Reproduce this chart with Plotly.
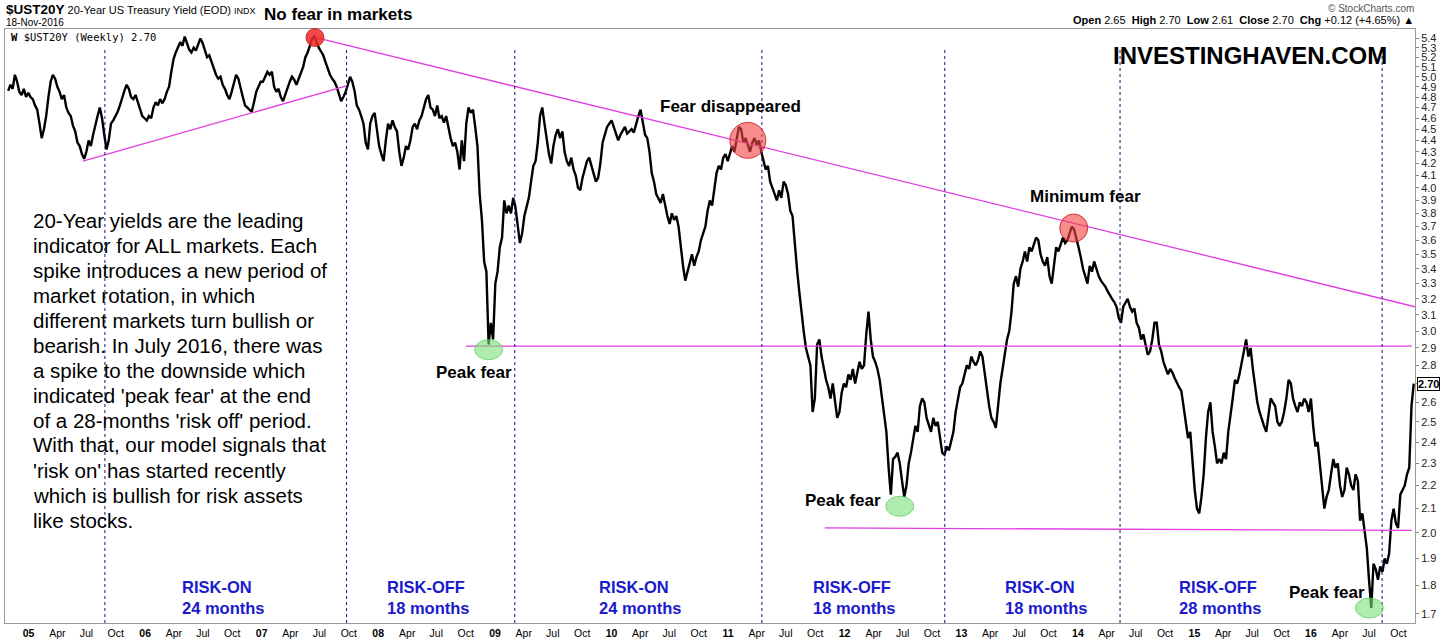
import math

import pandas as pd
import plotly.graph_objects as go

# weekly closes of $UST20Y (Friday of each week)
y2004 = [4.86, 4.92, 4.88, 5.02, 4.95, 4.85, 4.82, 4.88, 4.80, 4.84]
y2005 = [4.80, 4.78, 4.72, 4.68, 4.55, 4.42, 4.50, 4.62, 4.80, 4.95,
         5.02, 4.98, 4.90, 4.85, 4.78, 4.82, 4.70, 4.65, 4.62, 4.53,
         4.48, 4.38, 4.35, 4.28, 4.24, 4.30, 4.40, 4.35, 4.45, 4.55,
         4.62, 4.70, 4.60, 4.45, 4.32, 4.40, 4.55, 4.58, 4.62, 4.66,
         4.72, 4.80, 4.86, 4.92, 4.88, 4.80, 4.78, 4.82, 4.75, 4.70,
         4.62, 4.60]
y2006 = [4.58, 4.62, 4.60, 4.70, 4.75, 4.72, 4.78, 4.74, 4.78, 4.85,
         4.90, 5.05, 5.18, 5.25, 5.30, 5.36, 5.32, 5.42, 5.35, 5.28,
         5.25, 5.30, 5.27, 5.33, 5.40, 5.35, 5.26, 5.20, 5.22, 5.15,
         5.10, 5.02, 4.98, 5.00, 4.92, 4.88, 4.82, 4.78, 4.85, 4.95,
         5.02, 4.98, 4.88, 4.80, 4.72, 4.70, 4.68, 4.66, 4.75, 4.85,
         4.90, 4.95]
y2007 = [4.95, 5.00, 5.05, 5.02, 5.05, 4.90, 4.85, 4.88, 4.80, 4.76,
         4.82, 4.90, 4.95, 5.00, 4.97, 4.92, 4.98, 5.02, 5.10, 5.20,
         5.25, 5.32, 5.40, 5.42, 5.35, 5.30, 5.26, 5.22, 5.15, 5.08,
         5.02, 4.98, 4.95, 4.90, 4.82, 4.76, 4.80, 4.85, 4.92, 5.00,
         4.95, 4.86, 4.72, 4.68, 4.62, 4.55, 4.38, 4.32, 4.55, 4.62,
         4.65, 4.50]
y2008 = [4.35, 4.28, 4.22, 4.40, 4.55, 4.50, 4.58, 4.52, 4.48, 4.30,
         4.18, 4.25, 4.35, 4.32, 4.40, 4.52, 4.55, 4.50, 4.58, 4.62,
         4.70, 4.78, 4.82, 4.70, 4.68, 4.62, 4.72, 4.60, 4.62, 4.56,
         4.62, 4.50, 4.42, 4.35, 4.38, 4.30, 4.15, 4.40, 4.22, 4.55,
         4.70, 4.65, 4.68, 4.52, 4.35, 3.95, 3.75, 3.45, 3.38, 2.92,
         3.05, 2.95]
y2009 = [3.30, 3.38, 3.55, 3.62, 3.90, 3.80, 3.86, 3.80, 3.92, 3.85,
         3.70, 3.58, 3.65, 3.78, 3.85, 3.92, 4.05, 4.18, 4.22, 4.38,
         4.62, 4.70, 4.55, 4.40, 4.28, 4.20, 4.35, 4.45, 4.50, 4.42,
         4.48, 4.30, 4.22, 4.18, 4.25, 4.15, 4.10, 4.00, 3.98, 4.08,
         4.15, 4.22, 4.25, 4.18, 4.12, 4.05, 4.08, 4.20, 4.38, 4.45,
         4.52, 4.55]
y2010 = [4.58, 4.52, 4.45, 4.40, 4.45, 4.48, 4.52, 4.46, 4.48, 4.50,
         4.47, 4.55, 4.62, 4.68, 4.58, 4.45, 4.42, 4.30, 4.12, 4.05,
         3.95, 3.92, 3.88, 3.95, 3.85, 3.78, 3.72, 3.80, 3.75, 3.78,
         3.70, 3.55, 3.42, 3.32, 3.38, 3.45, 3.50, 3.42, 3.48, 3.52,
         3.60, 3.65, 3.70, 3.82, 3.90, 3.86, 4.00, 4.12, 4.18, 4.15,
         4.25, 4.28, 4.22]
y2011 = [4.28, 4.35, 4.30, 4.42, 4.52, 4.50, 4.38, 4.42, 4.35, 4.30,
         4.38, 4.42, 4.36, 4.40, 4.30, 4.22, 4.15, 4.18, 4.05, 4.00,
         3.95, 3.90, 3.98, 3.92, 4.05, 4.02, 3.95, 3.82, 3.78, 3.55,
         3.40, 3.25, 3.10, 3.00, 2.90, 2.85, 2.80, 2.55, 2.62, 2.92,
         2.95, 2.85, 2.78, 2.72, 2.68, 2.62, 2.70, 2.60, 2.52, 2.55,
         2.65, 2.70]
y2012 = [2.68, 2.75, 2.72, 2.78, 2.70, 2.76, 2.82, 2.78, 2.80, 2.98,
         3.12, 2.95, 2.85, 2.82, 2.78, 2.72, 2.62, 2.55, 2.45, 2.28,
         2.16, 2.32, 2.33, 2.35, 2.30, 2.22, 2.15, 2.20, 2.30, 2.35,
         2.42, 2.48, 2.45, 2.58, 2.62, 2.60, 2.52, 2.48, 2.45, 2.52,
         2.48, 2.50, 2.42, 2.35, 2.34, 2.38, 2.36, 2.40, 2.45, 2.55,
         2.62, 2.68]
y2013 = [2.70, 2.75, 2.80, 2.78, 2.85, 2.82, 2.80, 2.83, 2.88, 2.85,
         2.75, 2.65, 2.58, 2.52, 2.50, 2.47, 2.60, 2.70, 2.78, 2.86,
         2.95, 3.00, 3.12, 3.30, 3.35, 3.28, 3.40, 3.45, 3.52, 3.45,
         3.55, 3.52, 3.58, 3.62, 3.60, 3.50, 3.45, 3.42, 3.48, 3.35,
         3.30, 3.42, 3.55, 3.52, 3.58, 3.62, 3.58, 3.60, 3.65, 3.70,
         3.68, 3.62]
y2014 = [3.55, 3.48, 3.40, 3.35, 3.30, 3.42, 3.38, 3.45, 3.40, 3.35,
         3.32, 3.30, 3.28, 3.25, 3.22, 3.20, 3.18, 3.15, 3.08, 3.05,
         3.15, 3.18, 3.20, 3.15, 3.12, 3.14, 3.05, 3.02, 2.95, 2.98,
         2.92, 2.86, 2.88, 2.95, 3.05, 3.05, 2.92, 2.88, 2.82, 2.78,
         2.75, 2.78, 2.76, 2.73, 2.70, 2.68, 2.66, 2.58, 2.48, 2.42,
         2.45, 2.30]
y2015 = [2.18, 2.10, 2.08, 2.15, 2.25, 2.42, 2.55, 2.60, 2.45, 2.38,
         2.30, 2.32, 2.30, 2.35, 2.32, 2.45, 2.55, 2.62, 2.72, 2.70,
         2.75, 2.82, 2.88, 2.95, 2.85, 2.90, 2.78, 2.68, 2.60, 2.55,
         2.52, 2.48, 2.45, 2.55, 2.62, 2.60, 2.58, 2.50, 2.48, 2.50,
         2.55, 2.62, 2.72, 2.70, 2.62, 2.58, 2.55, 2.60, 2.58, 2.62,
         2.60, 2.55]
y2016 = [2.62, 2.48, 2.38, 2.40, 2.30, 2.22, 2.10, 2.15, 2.18, 2.25,
         2.32, 2.28, 2.30, 2.20, 2.15, 2.18, 2.28, 2.25, 2.20, 2.18,
         2.25, 2.22, 2.05, 2.08, 2.00, 1.94, 1.82, 1.72, 1.88, 1.86,
         1.82, 1.87, 1.85, 1.90, 1.88, 1.92, 2.05, 2.10, 2.04, 2.02,
         2.16, 2.18, 2.20, 2.25, 2.28, 2.58, 2.70]

year_starts = ['2004-10-29', '2005-01-01', '2006-01-01', '2007-01-01', '2008-01-01',
               '2009-01-01', '2010-01-01', '2011-01-01', '2012-01-01', '2013-01-01',
               '2014-01-01', '2015-01-01', '2016-01-01']
year_values = [y2004, y2005, y2006, y2007, y2008, y2009, y2010, y2011, y2012,
               y2013, y2014, y2015, y2016]

# hand-drawn lines on the chart (dates, yields)
trend_up = (['2005-06-20', '2007-09-24'], [4.22, 4.91])
trend_down = (['2007-06-17', '2016-11-22'], [5.41, 3.15])
line_292 = (['2008-10-02', '2016-11-12'], [2.91, 2.91])
line_202 = (['2011-10-31', '2016-11-12'], [2.02, 2.01])

period_marks = ['2005-08-28', '2007-09-24', '2009-03-04', '2011-04-17',
                '2012-11-10', '2014-05-13', '2016-08-11']
period_text = [('RISK-ON', '24 months'), ('RISK-OFF', '18 months'), ('RISK-ON', '24 months'),
               ('RISK-OFF', '18 months'), ('RISK-ON', '18 months'), ('RISK-OFF', '28 months')]

fear_dates = ['2007-06-17', '2011-03-04', '2013-12-19']
fear_values = [5.41, 4.40, 3.69]
fear_labels = ['No fear in markets', 'Fear disappeared', 'Minimum fear']
peak_dates = ['2008-12-12', '2012-06-22', '2016-07-02']
peak_values = [2.89, 2.11, 1.72]

last_close = 2.70
y_lo, y_hi = 1.669, 5.503
y_ticks = [round(v / 10, 1) for v in range(17, 55)]
months = {1: None, 4: 'Apr', 7: 'Jul', 10: 'Oct'}

paragraph = [
    "20-Year yields are the leading",
    "indicator for ALL markets. Each",
    "spike introduces a new period of",
    "market rotation, in which",
    "different markets turn bullish or",
    "bearish. In July 2016, there was",
    "a spike to the downside which",
    "indicated 'peak fear' at the end",
    "of a 28-months 'risk off' period.",
    "With that, our model signals that",
    "'risk on' has started recently",
    "which is bullish for risk assets",
    "like stocks.",
]

# plot area in pixels
L, R, T, B = 5, 1415, 29, 623
FONT = "Liberation Sans, Arial, sans-serif"
MAGENTA = '#e23ce2'
BLUE = '#1a1acd'
LOG_LO, LOG_HI = math.log10(y_lo), math.log10(y_hi)


def px(x):
    return (x - L) / (R - L)


def py(y):
    return (B - y) / (B - T)


def y_paper(v):
    # position of a yield on the log axis, as a fraction of the plot height
    return (math.log10(v) - LOG_LO) / (LOG_HI - LOG_LO)


dates, yields = [], []
for start, vals in zip(year_starts, year_values):
    dates += list(pd.date_range(start, periods=len(vals), freq='W-FRI'))
    yields += vals

tick_vals, tick_text = [], []
for year in range(2005, 2017):
    for m, name in months.items():
        tick_vals.append(f'{year}-{m:02d}-01')
        tick_text.append(f'<b>{year % 100:02d}</b>' if name is None else name)

fig = go.Figure()
fig.add_trace(go.Scatter(x=dates, y=yields, mode='lines',
                         line=dict(color='black', width=2.4), hoverinfo='skip'))

for xs, ys in [trend_up, trend_down, line_292, line_202]:
    fig.add_shape(type='line', xref='x', yref='y', x0=xs[0], x1=xs[1], y0=ys[0], y1=ys[1],
                  line=dict(color=MAGENTA, width=1.3))

for d in period_marks:
    fig.add_shape(type='line', xref='x', yref='paper', x0=d, x1=d, y0=0, y1=py(48),
                  line=dict(color='#101080', width=1, dash='dot'))

fear_sizes = [9, 18, 14]
for i, (d, v) in enumerate(zip(fear_dates, fear_values)):
    r = fear_sizes[i]
    fill = 'rgba(240,40,40,0.85)' if i == 0 else 'rgba(240,70,70,0.62)'
    fig.add_shape(type='circle', xref='x', yref='paper', xsizemode='pixel', ysizemode='pixel',
                  xanchor=d, yanchor=y_paper(v), x0=-r, x1=r, y0=-r, y1=r,
                  fillcolor=fill, line=dict(color='rgba(200,20,20,0.8)', width=1))
for d, v in zip(peak_dates, peak_values):
    fig.add_shape(type='circle', xref='x', yref='paper', xsizemode='pixel', ysizemode='pixel',
                  xanchor=d, yanchor=y_paper(v), x0=-14, x1=14, y0=-10, y1=10,
                  fillcolor='rgba(120,225,120,0.6)', line=dict(color='rgba(90,200,90,0.7)', width=1))

ann = []


def text(x, y, s, size, anchor='center', color='black', family=FONT, bold=False):
    ann.append(dict(xref='paper', yref='paper', x=px(x), y=py(y), text=f'<b>{s}</b>' if bold else s,
                    showarrow=False, xanchor=anchor, yanchor='middle',
                    font=dict(size=size, color=color, family=family)))


# chart header
text(4, 10, '<span style="font-size:13.5px"><b>$UST20Y</b></span> 20-Year US Treasury Yield (EOD) '
     '<span style="font-size:9px">INDX</span>', 11, anchor='left')
text(4, 23, '18-Nov-2016', 10, anchor='left')
text(1416, 8, '\u00a9 StockCharts.com', 10, anchor='right', color='#555')
text(1416, 20, '<b>Open</b> 2.65  <b>High</b> 2.70  <b>Low</b> 2.61  <b>Close</b> 2.70  '
     '<b>Chg</b> +0.12 (+4.65%) \u25b2', 11, anchor='right')
text(9, 37, '<b>W</b> $UST20Y (Weekly) 2.70', 10.5, anchor='left', family='DejaVu Sans Mono, monospace')
text(1250, 55, 'INVESTINGHAVEN.COM', 24, bold=True)

# notes
text(338, 15, fear_labels[0], 17, bold=True)
text(730, 107, fear_labels[1], 17, bold=True)
text(1085, 196, fear_labels[2], 17, bold=True)
for x, y in [(474, 372), (843, 501), (1327, 592)]:
    text(x, y, 'Peak fear', 17, bold=True)

for i, line in enumerate(paragraph):
    text(31, 220 + 25 * i, line, 20.5, anchor='left')

for x0, (a, b) in zip([180, 385, 597, 811, 1003, 1177], period_text):
    text(x0, 587, a, 16.5, anchor='left', color=BLUE, bold=True)
    text(x0, 608, b, 16.5, anchor='left', color=BLUE, bold=True)

# last value tag on the price axis
ann.append(dict(xref='paper', yref='paper', x=px(1417), y=y_paper(last_close),
                text=f'<b>{last_close:.2f}</b>', showarrow=False, xanchor='left', yanchor='middle',
                bgcolor='white', bordercolor='black', borderwidth=1, borderpad=0,
                font=dict(size=11, color='black', family=FONT)))

fig.update_layout(
    width=1440, height=640,
    margin=dict(l=L, r=1440 - R, t=T, b=640 - B),
    paper_bgcolor='white', plot_bgcolor='white',
    showlegend=False,
    annotations=ann,
    xaxis=dict(
        type='date', range=['2004-10-19', '2016-11-22'],
        tickvals=tick_vals, ticktext=tick_text, tickangle=0,
        tickfont=dict(size=10.5, family=FONT, color='black'),
        showgrid=False, zeroline=False, ticks='', automargin=False,
        showline=True, mirror=True, linecolor='#9a9a9a', linewidth=1,
    ),
    yaxis=dict(
        type='log', side='right', range=[LOG_LO, LOG_HI],
        tickvals=y_ticks, ticktext=['' if v == 2.7 else f'{v:.1f}' for v in y_ticks],
        tickfont=dict(size=11, family=FONT, color='#222'),
        ticks='outside', ticklen=3, tickcolor='#888',
        showgrid=False, zeroline=False, automargin=False,
        showline=True, mirror=True, linecolor='#9a9a9a', linewidth=1,
    ),
)

fig.write_html("out.html", config={'displayModeBar': False},
               post_script="document.body.style.margin='0';document.body.style.overflow='hidden';")
